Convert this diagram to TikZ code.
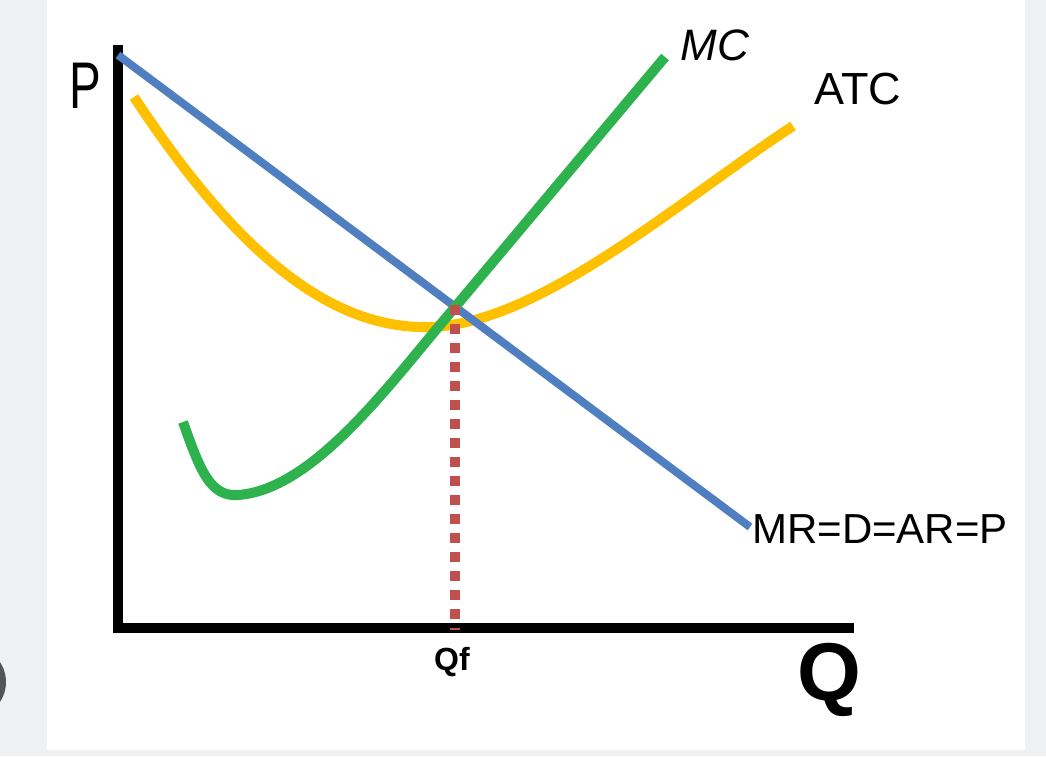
\documentclass[tikz,border=0pt]{standalone}
\usepackage{fontspec}
\setmainfont{Liberation Sans}
\definecolor{bggray}{HTML}{F0F1F3}
\definecolor{dotgray}{HTML}{555555}
\definecolor{mrblue}{HTML}{4F7FC0}
\definecolor{atcyellow}{HTML}{FFC000}
\definecolor{mcgreen}{HTML}{2DB24E}
\definecolor{qred}{HTML}{C0504D}
\tikzset{
  axisline/.style={line width=10pt, black},
  curveline/.style={line width=10pt},
  lbl/.style={inner sep=0pt, font=\fontsize{42}{48}\selectfont}
}
\begin{document}
\begin{tikzpicture}[x=1pt,y=-1pt]
\useasboundingbox (0,0) rectangle (1046,756);
\fill[bggray] (0,0) rectangle (1046,756);
\fill[white] (47,0) rectangle (1025,750);
\begin{scope}
\clip (0,0) rectangle (47,756);
\fill[dotgray] (-30,682) circle (36);
\end{scope}
% coordinates
\coordinate (ytop) at (118,45);
\coordinate (origin) at (118,628);
\coordinate (xend) at (854,628);
\coordinate (mrS) at (118,55);
\coordinate (mrE) at (750,527);
\coordinate (atcS) at (134,97);
\coordinate (atcM) at (430,327);
\coordinate (atcE) at (793,126);
\coordinate (mcS) at (183,422);
\coordinate (mcM) at (238,495);
\coordinate (mcB) at (440,325);
\coordinate (mcE) at (665,57);
\coordinate (qfT) at (455,305);
\coordinate (qfB) at (455,628);
% axes
\draw[axisline] (origin) -- (ytop);
\draw[axisline] ([xshift=-5pt]origin) -- (xend);
% curves
\draw[atcyellow, curveline] (atcS) .. controls (225,235) and (320,330) .. (atcM)
   .. controls (540,324) and (680,200) .. (atcE);
\draw[mrblue, line width=8pt] (mrS) -- (mrE);
\draw[mcgreen, line width=10pt] (mcS) .. controls (200,470) and (210,497) .. (mcM)
   .. controls (310,490) and (383,393) .. (mcB) -- (mcE);
\draw[qred, line width=10pt, dash pattern=on 10pt off 9pt] (qfT) -- ([yshift=-2pt]qfB);
% labels
\node[lbl, xscale=0.72, font=\fontsize{66}{76}\selectfont] (pl) at (85,86) {P};
\node[lbl, font=\itshape\fontsize{44}{50}\selectfont] (mcl) at (715,45) {MC};
\node[lbl, font=\fontsize{45}{50}\selectfont] (atcl) at (858,89) {ATC};
\node[lbl, anchor=west] (mrl) at (752,529) {MR=D=AR=P};
\node[lbl, font=\bfseries\fontsize{32}{36}\selectfont] (qfl) at (452,662) {Qf};
\node[lbl, font=\bfseries\fontsize{82}{90}\selectfont] (ql) at (829,680) {Q};
\end{tikzpicture}
\end{document}
